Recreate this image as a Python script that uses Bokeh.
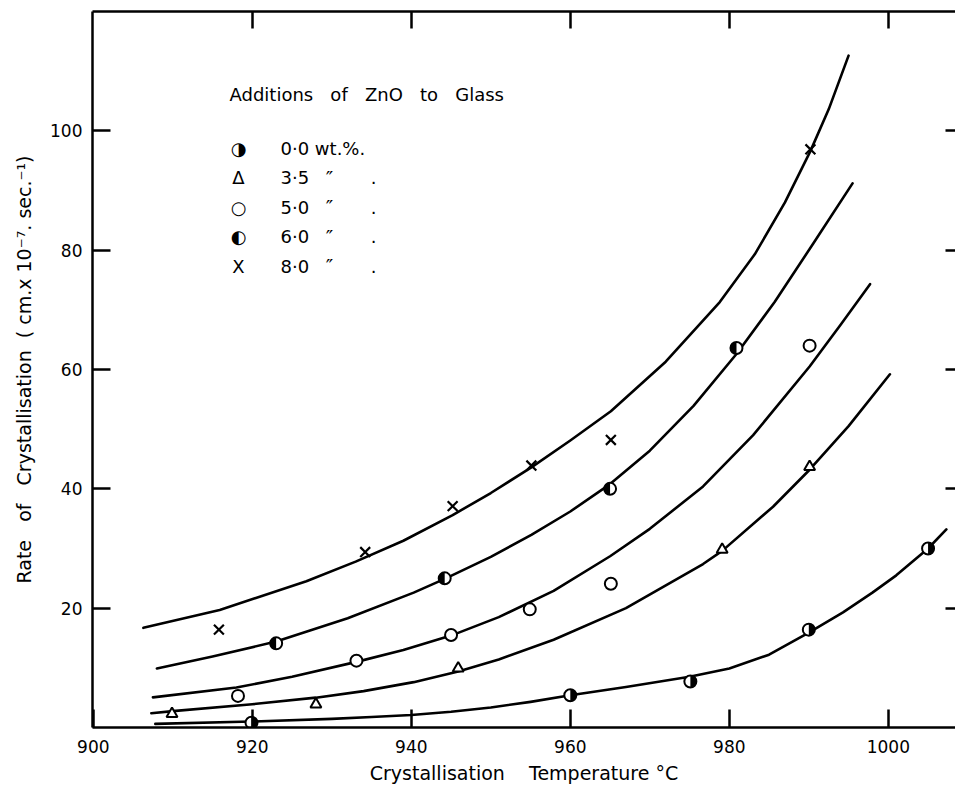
import math
from bokeh.plotting import figure
from bokeh.models import Range1d, LinearAxis, FixedTicker, Label
from bokeh.embed import file_html
from bokeh.resources import INLINE

# ---------------- data ----------------
# measured points: temperature (°C) and rate (cm x 1e-7 / sec)
zn00_t = [919.9, 960.0, 975.1, 990.0, 1005.0]
zn00_r = [0.8, 5.4, 7.7, 16.4, 30.0]
zn35_t = [909.9, 928.0, 945.9, 979.1, 990.1]
zn35_r = [2.3, 3.9, 9.9, 29.8, 43.7]
zn50_t = [918.2, 933.1, 945.0, 954.9, 965.1, 990.1]
zn50_r = [5.3, 11.2, 15.5, 19.8, 24.1, 64.0]
zn60_t = [923.0, 944.2, 965.0, 980.9]
zn60_r = [14.1, 25.0, 40.0, 63.6]
zn80_t = [915.8, 934.2, 945.2, 955.1, 965.1, 990.2]
zn80_r = [16.4, 29.4, 37.1, 43.9, 48.2, 96.9]

# hand-drawn fitted curves
c00_t = [907.8, 919.9, 930.0, 935.0, 940.0, 945.0, 950.0, 955.0, 960.0, 967.0, 975.0, 980.0, 985.0, 990.0, 994.3, 998.0, 1001.0, 1005.0, 1007.3]
c00_r = [0.6, 1.0, 1.45, 1.75, 2.1, 2.65, 3.35, 4.3, 5.4, 6.8, 8.5, 9.9, 12.2, 15.9, 19.3, 22.6, 25.5, 30.0, 33.2]
c35_t = [907.3, 910.0, 920.0, 928.0, 934.0, 940.3, 945.9, 951.0, 957.9, 967.0, 976.7, 979.1, 985.5, 990.1, 995.0, 1000.2]
c35_r = [2.4, 2.75, 3.9, 5.0, 6.1, 7.6, 9.4, 11.4, 14.7, 20.0, 27.4, 29.6, 37.0, 43.2, 50.5, 59.2]
c50_t = [907.5, 918.0, 925.0, 933.1, 939.0, 945.0, 951.0, 957.9, 965.0, 970.0, 976.7, 983.0, 990.1, 994.0, 997.7]
c50_r = [5.05, 6.7, 8.5, 11.0, 13.0, 15.4, 18.5, 22.9, 28.7, 33.3, 40.4, 49.0, 60.5, 67.5, 74.3]
c60_t = [908.0, 915.0, 923.0, 932.0, 940.3, 944.2, 950.0, 955.1, 960.0, 965.0, 970.0, 975.5, 980.9, 985.7, 990.6, 995.5]
c60_r = [9.9, 11.9, 14.4, 18.3, 22.6, 24.9, 28.6, 32.3, 36.2, 40.8, 46.4, 53.9, 62.6, 71.3, 81.2, 91.2]
c80_t = [906.3, 915.9, 926.8, 933.0, 939.0, 945.2, 950.0, 955.1, 960.0, 965.1, 972.0, 978.8, 983.2, 987.0, 990.2, 992.5, 995.0]
c80_r = [16.7, 19.7, 24.5, 27.8, 31.3, 35.6, 39.3, 43.6, 48.1, 53.0, 61.3, 71.3, 79.3, 88.0, 96.6, 103.6, 112.6]

x_ticks = [900, 920, 940, 960, 980, 1000]
top_ticks = [920, 940, 960, 980, 1000]
y_ticks = [20, 40, 60, 80, 100]

NB = "\u00a0"
x_title = "Crystallisation" + NB * 4 + "Temperature" + NB + "°C"
y_title = "Rate" + NB * 3 + "of" + NB * 3 + "Crystallisation" + NB * 2 + "(" + NB + "cm.x 10⁻⁷. sec.⁻¹)"
legend_title = (NB * 3).join(["Additions", "of", "ZnO", "to", "Glass"])
legend_symbols = ["◑", "Δ", "○", "◐", "X"]
legend_values = ["0·0 wt.%.", "3·5", "5·0", "6·0", "8·0"]
legend_ditto = ["", "″", "″", "″", "″"]
legend_dots = ["", ".", ".", ".", "."]

FONT = "DejaVu Sans"
INK = "black"

p = figure(width=955, height=786,
           x_range=Range1d(899.9, 1008.45), y_range=Range1d(0, 120),
           output_backend="svg", toolbar_location=None,
           min_border_left=92, min_border_right=0, min_border_top=11, min_border_bottom=58,
           x_axis_label=x_title, y_axis_label=y_title)
p.grid.visible = False
p.outline_line_color = None
p.background_fill_color = "white"
p.border_fill_color = "white"

xa = p.below[0]
ya = p.left[0]
for ax, ticks in ((xa, x_ticks), (ya, y_ticks)):
    ax.ticker = FixedTicker(ticks=ticks)
    ax.major_tick_in = 18
    ax.major_tick_out = 0
    ax.minor_tick_line_color = None
    ax.axis_line_width = 2.5
    ax.axis_line_color = INK
    ax.major_tick_line_width = 2.5
    ax.major_tick_line_color = INK
    ax.major_label_text_font = FONT
    ax.major_label_text_font_size = "17px"
    ax.major_label_text_color = INK
    ax.axis_label_text_font = FONT
    ax.axis_label_text_font_size = "19px"
    ax.axis_label_text_font_style = "normal"
    ax.axis_label_text_color = INK
xa.major_label_standoff = 12
xa.axis_label_standoff = 6
ya.major_label_standoff = 10
ya.axis_label_standoff = 12

top = LinearAxis(ticker=FixedTicker(ticks=top_ticks), major_tick_in=17, major_tick_out=0,
                 minor_tick_line_color=None, major_label_text_color=None,
                 axis_line_width=2.5, major_tick_line_width=2.5)
p.add_layout(top, "above")
right = LinearAxis(ticker=FixedTicker(ticks=y_ticks), major_tick_in=10, major_tick_out=0,
                   minor_tick_line_color=None, major_label_text_color=None,
                   axis_line_color=None, major_tick_line_width=2.5)
p.add_layout(right, "right")

# curves
for ct, cr in ((c00_t, c00_r), (c35_t, c35_r), (c50_t, c50_r), (c60_t, c60_r), (c80_t, c80_r)):
    p.line(ct, cr, line_color=INK, line_width=2.6, line_join="round", line_cap="round")

# markers
MS = 12
p.scatter(zn00_t, zn00_r, marker="circle", size=MS, fill_color="white", line_color=INK, line_width=2)
p.wedge(zn00_t, zn00_r, radius=MS / 2, radius_units="screen",
        start_angle=-math.pi / 2, end_angle=math.pi / 2, fill_color=INK, line_color=None)
p.scatter(zn60_t, zn60_r, marker="circle", size=MS, fill_color="white", line_color=INK, line_width=2)
p.wedge(zn60_t, zn60_r, radius=MS / 2, radius_units="screen",
        start_angle=math.pi / 2, end_angle=3 * math.pi / 2, fill_color=INK, line_color=None)
p.scatter(zn35_t, zn35_r, marker="triangle", size=11, fill_color="white", line_color=INK, line_width=2)
p.scatter(zn50_t, zn50_r, marker="circle", size=MS, fill_color="white", line_color=INK, line_width=2)
p.scatter(zn80_t, zn80_r, marker="x", size=14, line_color=INK, line_width=2.2)

# legend block (screen units, relative to the plot frame: x from left, y up from bottom)
LEG_X = 137
TITLE_Y = 633
ROW0_Y = 579
ROW_H = 29.4
lab_kw = dict(x_units="screen", y_units="screen", text_font=FONT,
              text_color=INK, text_baseline="middle")
p.add_layout(Label(x=LEG_X, y=TITLE_Y, text=legend_title, text_font_size="18px", **lab_kw))
for i in range(len(legend_values)):
    yy = ROW0_Y - i * ROW_H
    p.add_layout(Label(x=LEG_X + 9, y=yy, text=legend_symbols[i], text_align="center",
                       text_font_size="18px", **lab_kw))
    p.add_layout(Label(x=LEG_X + 51, y=yy, text=legend_values[i], text_font_size="18px", **lab_kw))
    if legend_ditto[i]:
        p.add_layout(Label(x=LEG_X + 100, y=yy, text=legend_ditto[i], text_align="center",
                           text_font_size="20px", **lab_kw))
    if legend_dots[i]:
        p.add_layout(Label(x=LEG_X + 144, y=yy, text=legend_dots[i], text_align="center",
                           text_font_size="18px", **lab_kw))

open("out.html", "w").write(file_html(p, INLINE))
